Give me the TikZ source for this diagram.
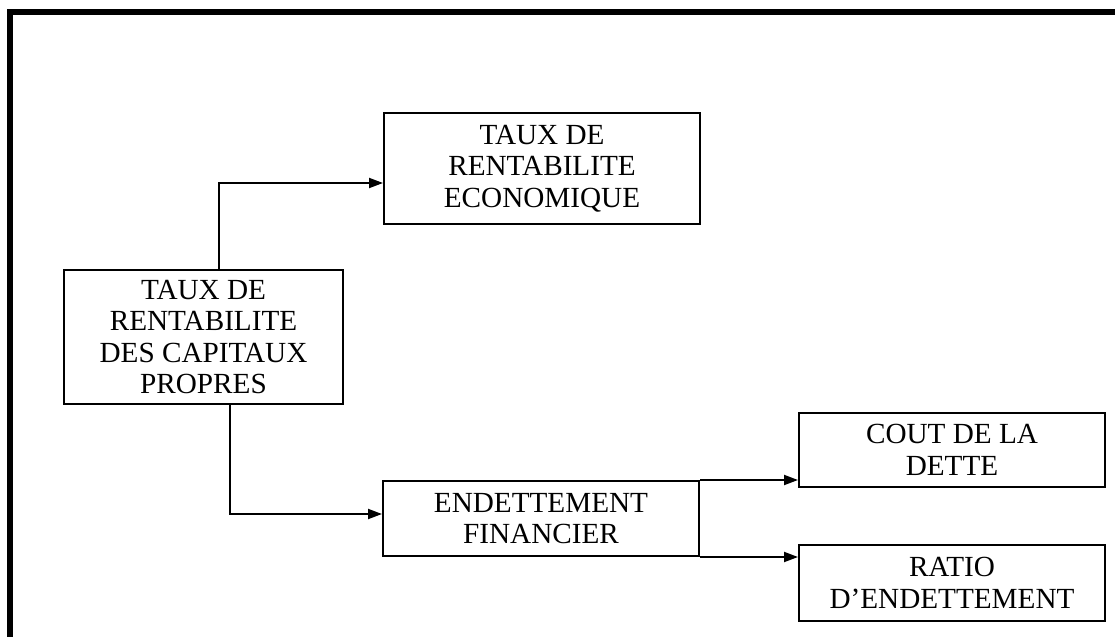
\documentclass[tikz,border=0pt]{standalone}
\usepackage{fontspec}
\setmainfont{Liberation Serif}
\usetikzlibrary{arrows.meta}

\begin{document}
\begin{tikzpicture}[x=0.5pt,y=-0.5pt,
  box/.style={draw, line width=1pt, align=center, inner sep=0pt,
    font=\fontsize{14.6pt}{15.75pt}\selectfont},
  link/.style={line width=1pt, -{Triangle[length=7pt,width=5pt]}}]

  \useasboundingbox (0,0) rectangle (1115,637);

  % outer frame, open on the right and at the bottom
  \draw[line width=3pt] (9.5,637) -- (9.5,12) -- (1115,12);

  % main box and the two causes
  \node[box, minimum width=139.5pt, minimum height=67pt] (rcp) at (203.5,337)
    {TAUX DE\\RENTABILITE\\DES CAPITAUX\\PROPRES};
  \node[box, minimum width=158pt, minimum height=55.5pt] (eco) at (542,168.5)
    {TAUX DE\\RENTABILITE\\ECONOMIQUE};
  \node[box, minimum width=158pt, minimum height=37.5pt] (endt) at (541,518.5)
    {ENDETTEMENT\\FINANCIER};

  % the two parts of the debt
  \node[box, minimum width=153pt, minimum height=37pt] (cout) at (952,450)
    {COUT DE LA\\DETTE};
  \node[box, minimum width=153pt, minimum height=38pt] (ratio) at (952,583)
    {RATIO\\D'ENDETTEMENT};

  % connectors
  \draw[link] ([xshift=7.75pt]rcp.north) |- ([yshift=-7.25pt]eco.west);
  \draw[link] ([xshift=13.25pt]rcp.south) |- ([yshift=2.25pt]endt.west);
  \draw[link] (endt.north east) -- (endt.north east -| cout.west);
  \draw[link] (endt.south east) -- (endt.south east -| ratio.west);

\end{tikzpicture}
\end{document}
